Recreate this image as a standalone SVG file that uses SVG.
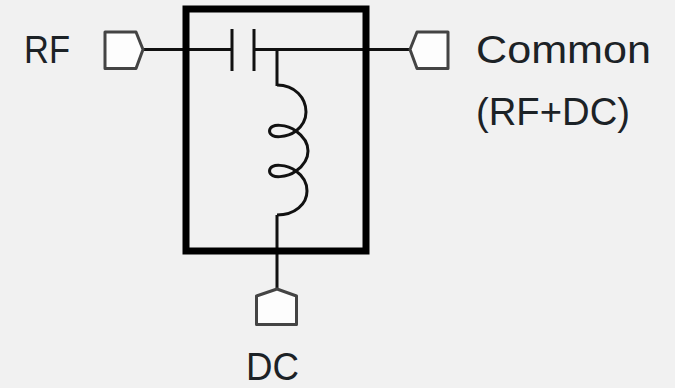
<svg xmlns="http://www.w3.org/2000/svg" width="675" height="388" viewBox="0 0 675 388">
<style>
.w{fill:none;stroke:#111;stroke-width:3}
.p{fill:#fdfdfd;stroke:#444;stroke-width:3;stroke-linejoin:round}
.t{font-family:"Liberation Sans","Open Sans",sans-serif;font-size:38px;fill:#1c2226}
</style>
<rect width="675" height="388" fill="#f1f1f1"/>
<g id="connectors">
<path class="w" d="M143 49.500H232M254 49.500H411M277 49.500V86M277 215V289"/>
</g>
<g id="module"><rect x="186" y="9" width="180" height="242" fill="none" stroke="#000" stroke-width="7"/></g>
<g id="capacitor"><path class="w" d="M232 29V71M254 29V71"/></g>
<g id="inductor"><path class="w" d="M277 85C295 85 306 98 306 112C306 122 301 127 296 131C288 137 270 140 269.500 131C270 122 288 125 296 131C303 136 308 143 308 151C308 159 303 166 296 171C288 177 270 180 269.500 171C270 162 288 165 296 171C303 176 307 183 307 191C307 204 295 215 277 215"/></g>
<g id="port-rf"><path class="p" d="M105 32H136L143 49.500L136 68.500H105Z"/><text class="t" x="24" y="63" textLength="46" lengthAdjust="spacingAndGlyphs">RF</text></g>
<g id="port-common"><path class="p" d="M448 32H417L410 49.500L417 68.500H448Z"/><text class="t" x="476" y="63" textLength="175" lengthAdjust="spacingAndGlyphs">Common</text><text class="t" x="476" y="125" textLength="154" lengthAdjust="spacingAndGlyphs">(RF+DC)</text></g>
<g id="port-dc"><path class="p" d="M277 289L296.500 296V324.500H256.500V296Z"/><text class="t" x="246" y="380" textLength="53" lengthAdjust="spacingAndGlyphs">DC</text></g>
</svg>
